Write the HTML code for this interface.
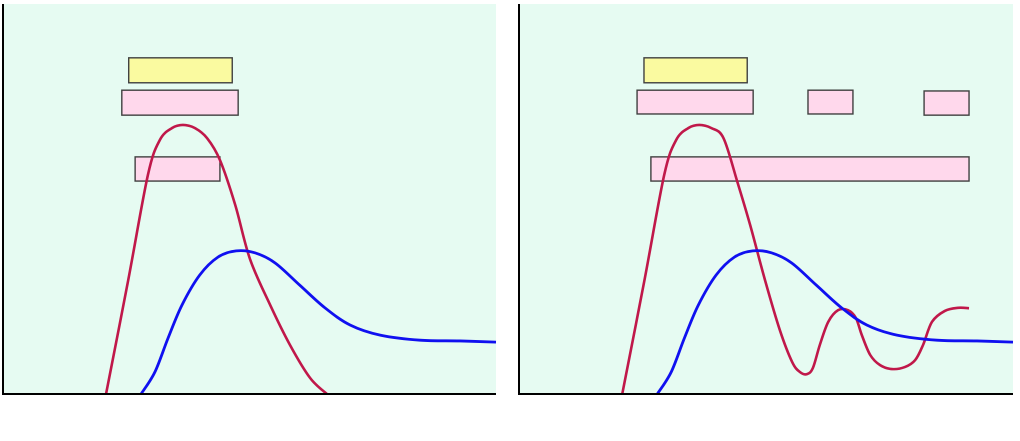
<!DOCTYPE html>
<html><head><meta charset="utf-8"><style>
html,body{margin:0;padding:0;background:#fff;}
svg{display:block;}
</style></head><body>
<svg id="chart" width="1020" height="441"></svg>
<script>
// data units: x 0..100 across panel, y 0..100 up
const leftRedX=[20.9,25.4,29.4,31.8,34.3,36.5,38.9,41.4,44,47.1,50.1,54.2,58.2,62.3,65.7];
const leftRedY=[0,29.2,56.2,65.1,68.2,69,68.2,65.6,60,48.5,34.6,22.8,12.6,4.1,0];
const blueX=[28,30.8,33.5,36.3,39.9,43.6,47.3,51.1,55.2,60.2,65.3,70.4,76.5,84.6,92.7,100];
const blueY=[0,5.6,14.4,22.8,30.5,35.1,36.7,36.2,33.6,27.9,22.1,17.7,15.1,13.8,13.6,13.3];
const rightRedX=[20.9,25.4,29.4,31.8,34.3,36.5,38.9,41.4,44.2,46.8,49.8,52.8,55.3,56.9,58.3,59.5,60.9,62.6,64.6,66.6,68.2,69.4,71.1,73.1,75.5,78.1,80.2,81.8,83.6,86.2,88.9,91.1];
const rightRedY=[0,29.2,56.2,65.1,68.2,69,68.2,65.6,54.4,43.3,29.2,16.4,8.2,5.6,5.1,6.7,12.6,18.5,21.5,21.5,19.5,15.1,10,7.4,6.4,6.9,8.7,12.6,18.5,21.3,22.1,22];
// bars: [x0,x1,yTop,yBottom] in data units, type
const leftBars=[[25.5,46.5,86.2,79.8,'y'],[24.1,47.7,77.9,71.5,'p'],[26.8,44,60.8,54.6,'p']];
const rightBars=[[25.3,46.2,86.2,79.8,'y'],[23.9,47.4,77.9,71.8,'p'],[58.5,67.6,77.9,71.8,'p'],[82,91.1,77.7,71.5,'p'],[26.7,91.1,60.8,54.6,'p']];

const svg=document.getElementById('chart');
const NS='http://www.w3.org/2000/svg';
function mk(t,a){const e=document.createElementNS(NS,t);for(const k in a)e.setAttribute(k,a[k]);svg.appendChild(e);return e;}
function path(pts){let d='M'+pts[0][0]+','+pts[0][1];
 for(let i=0;i<pts.length-1;i++){const p0=pts[Math.max(0,i-1)],p1=pts[i],p2=pts[i+1],p3=pts[Math.min(pts.length-1,i+2)];
  const c1=[p1[0]+(p2[0]-p0[0])/6,p1[1]+(p2[1]-p0[1])/6],c2=[p2[0]-(p3[0]-p1[0])/6,p2[1]-(p3[1]-p1[1])/6];
  d+=' C'+c1+' '+c2+' '+p2;}return d;}
function panel(x0,w,name,bars,redX,redY){
 const sx=v=>x0+v*w/100, sy=v=>394-v*3.9;
 const bg=mk('rect',{x:x0,y:4,width:w,height:390,fill:'#e6fbf2'});
 
 
 bars.forEach((b,i)=>{const r=mk('rect',{x:sx(b[0]),y:sy(b[2]),width:sx(b[1])-sx(b[0]),height:sy(b[3])-sy(b[2]),fill:b[4]=='y'?'#fafaa0':'#ffd8ec',stroke:'#404040','stroke-width':1.4});
  
  });
 const red=mk('path',{d:path(redX.map((v,i)=>[sx(v),sy(redY[i])])),fill:'none',stroke:'#c0184a','stroke-width':2.6});
 
 
 const blue=mk('path',{d:path(blueX.map((v,i)=>[sx(v),sy(blueY[i])])),fill:'none',stroke:'#1010f0','stroke-width':2.8});
 
 
 const ya=mk('line',{x1:x0,y1:4,x2:x0,y2:395,stroke:'#000','stroke-width':2});
 
 
 const xa=mk('line',{x1:x0,y1:394,x2:x0+w,y2:394,stroke:'#000','stroke-width':2});
 
 
}
panel(3,493,'left',leftBars,leftRedX,leftRedY);
panel(519,494,'right',rightBars,rightRedX,rightRedY);
</script>
</body></html>
